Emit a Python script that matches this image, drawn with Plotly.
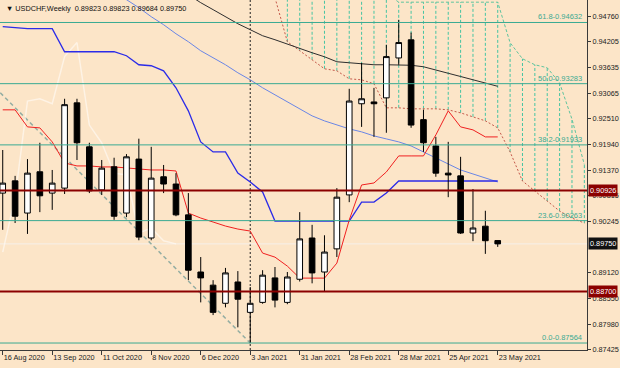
import plotly.graph_objects as go
import pandas as pd

# ---------------- data ----------------
dates = pd.date_range("2020-08-16", periods=48, freq="7D")  # weekly bars incl. future cloud bars
candle_dates = dates[:41]

opens = [0.9087, 0.9114, 0.9043, 0.9134, 0.9087, 0.9098, 0.9286, 0.9189, 0.9094, 0.9145,
         0.9043, 0.9162, 0.8988, 0.9123, 0.9107, 0.9039, 0.8913, 0.8884, 0.8844, 0.8891,
         0.8824, 0.8846, 0.8900, 0.8846, 0.8897, 0.8988, 0.8913, 0.8964, 0.9083, 0.9284,
         0.9288, 0.9297, 0.9385, 0.9425, 0.9249, 0.9191, 0.9131, 0.9125, 0.8999, 0.9014,
         0.89823]
highs = [0.9182, 0.9125, 0.9162, 0.9198, 0.9138, 0.9295, 0.9295, 0.9198, 0.9160, 0.9165,
         0.9173, 0.9207, 0.9189, 0.9149, 0.9131, 0.9087, 0.8946, 0.8895, 0.8922, 0.8915,
         0.8880, 0.8917, 0.8924, 0.8913, 0.9045, 0.9017, 0.8994, 0.9098, 0.9317, 0.9374,
         0.9319, 0.9414, 0.9469, 0.9441, 0.9271, 0.9211, 0.9200, 0.9167, 0.9096, 0.9048,
         0.89823]
lows = [0.9006, 0.9021, 0.8997, 0.9045, 0.9050, 0.9085, 0.9160, 0.9087, 0.9083, 0.9028,
        0.9034, 0.8983, 0.8983, 0.9087, 0.9036, 0.8895, 0.8846, 0.8818, 0.8835, 0.8791,
        0.87564, 0.8843, 0.8835, 0.8842, 0.8892, 0.8888, 0.8869, 0.8946, 0.9067, 0.9233,
        0.9211, 0.9220, 0.9370, 0.9231, 0.9178, 0.9123, 0.9078, 0.8997, 0.8981, 0.8953,
        0.89684]
closes = [0.9109, 0.9036, 0.9131, 0.9081, 0.9109, 0.9282, 0.9198, 0.9092, 0.9142, 0.9036,
          0.9167, 0.8990, 0.9120, 0.9107, 0.9039, 0.8917, 0.8900, 0.8824, 0.8911, 0.8853,
          0.8844, 0.8906, 0.8851, 0.8902, 0.8986, 0.8911, 0.8957, 0.9078, 0.9290, 0.9295,
          0.9284, 0.9388, 0.9419, 0.9237, 0.9198, 0.9131, 0.9127, 0.8999, 0.9010, 0.8982,
          0.89750]

# Ichimoku Tenkan-sen (red), bars 0..40
tenkan = [0.92706, 0.92706, 0.92330, 0.92308, 0.91999, 0.91535, 0.91469, 0.91469, 0.91447, 0.91447,
          0.91425, 0.91402, 0.91380, 0.91380, 0.91358, 0.90430, 0.90320, 0.90232, 0.90143, 0.90077,
          0.90033, 0.89547, 0.89458, 0.89260, 0.88995, 0.88995, 0.88995, 0.89326, 0.90276, 0.91049,
          0.91093, 0.91336, 0.91690, 0.91690, 0.91690, 0.92153, 0.92684, 0.92330, 0.92264, 0.92109,
          0.92109]
# Kijun-sen (blue), bars 0..40
kijun = [0.94539, 0.94517, 0.94495, 0.94495, 0.94495, 0.93987, 0.93987, 0.93987, 0.93987, 0.93987,
         0.93899, 0.93700, 0.93678, 0.93567, 0.93192, 0.92684, 0.91999, 0.91778, 0.91778, 0.91314,
         0.91115, 0.90894, 0.90254, 0.90254, 0.90254, 0.90254, 0.90254, 0.90254, 0.90254, 0.90673,
         0.90673, 0.90872, 0.91137, 0.91137, 0.91137, 0.91137, 0.91137, 0.91137, 0.91137, 0.91137,
         0.91137]
# light blue moving average, bars 9..40
ma_blue = [0.95312, 0.95136, 0.94959, 0.94760, 0.94583, 0.94384, 0.94208, 0.94009, 0.93854, 0.93700,
           0.93523, 0.93368, 0.93192, 0.93037, 0.92882, 0.92728, 0.92573, 0.92462, 0.92374, 0.92286,
           0.92220, 0.92131, 0.92065, 0.91999, 0.91910, 0.91778, 0.91645, 0.91513, 0.91380, 0.91292,
           0.91203, 0.91115]
# black moving average, bars 15..40
ma_black = [0.95246, 0.95069, 0.94915, 0.94760, 0.94605, 0.94473, 0.94340, 0.94252, 0.94152, 0.94053,
            0.93965, 0.93876, 0.93766, 0.93744, 0.93722, 0.93700, 0.93700, 0.93700, 0.93689, 0.93656,
            0.93578, 0.93512, 0.93441, 0.93368, 0.93295, 0.93225]
# Senkou span A (brown dotted) and B (green dashed), bars 22..47
senkou_a = [0.95180, 0.94208, 0.94009, 0.93810, 0.93611, 0.93567, 0.93390, 0.93368, 0.93280, 0.92750,
            0.92750, 0.92728, 0.92728, 0.92728, 0.92706, 0.92639, 0.92551, 0.92463, 0.92308, 0.91778,
            0.91137, 0.90916, 0.90694, 0.90474, 0.90319, 0.90209]
senkou_b = [0.95401, 0.95401, 0.95401, 0.95401, 0.95401, 0.95401, 0.95401, 0.95401, 0.95401, 0.95268,
            0.95080, 0.95080, 0.95080, 0.95080, 0.95080, 0.95080, 0.95080, 0.95080, 0.95080, 0.94186,
            0.93832, 0.93700, 0.93634, 0.93300, 0.92500, 0.91500]

fib_pct = ["61.8", "50.0", "38.2", "23.6", "0.0"]
fib_price = [0.94632, 0.93283, 0.91933, 0.90263, 0.87564]
level_prices = [0.90926, 0.88700]
bid_price = 0.89750
trend_x = ["2020-08-09", "2021-01-03"]
trend_y = [0.93300, 0.87564]
separator_date = "2021-01-03"

ytick_vals = [0.94760, 0.94205, 0.93635, 0.93065, 0.92510, 0.91940, 0.91370, 0.90815,
              0.90245, 0.89120, 0.88550, 0.87980, 0.87425]
xtick_vals = pd.date_range("2020-08-16", "2021-05-23", freq="28D")

title_text = "▼ USDCHF,Weekly  0.89823 0.89823 0.89684 0.89750"

# ---------------- style ----------------
BG = "#FCE5C8"
AX = "#3A3A3A"
TEAL = "#3AAA92"
HATCH = "#45C4A2"
FONT = "Liberation Sans"

fig = go.Figure()

# trendline (dashed)
fig.add_trace(go.Scatter(x=trend_x, y=trend_y, mode="lines",
                         line=dict(color="#93ADA2", width=1.5, dash="4px,3px"), hoverinfo="skip"))

# cloud hatching
cloud_dates = dates[22:48]
hx, hy = [], []
for d, a, b in zip(cloud_dates, senkou_a, senkou_b):
    hx += [d, d, None]
    hy += [a, b, None]
fig.add_trace(go.Scatter(x=hx, y=hy, mode="lines",
                         line=dict(color=HATCH, width=1, dash="3px,2px"), hoverinfo="skip"))
fig.add_trace(go.Scatter(x=cloud_dates, y=senkou_b, mode="lines",
                         line=dict(color="#5EC49E", width=1, dash="3px,2px"), hoverinfo="skip"))
fig.add_trace(go.Scatter(x=cloud_dates, y=senkou_a, mode="lines",
                         line=dict(color="#C4584A", width=1, dash="2px,2px"), hoverinfo="skip"))

# chikou span (closes shifted back 26 bars)
fig.add_trace(go.Scatter(x=candle_dates[:15], y=closes[26:], mode="lines",
                         line=dict(color="rgba(255,252,248,0.6)", width=1.5), hoverinfo="skip"))

# moving averages
fig.add_trace(go.Scatter(x=candle_dates[15:], y=ma_black, mode="lines",
                         line=dict(color="#2E2E2E", width=1), hoverinfo="skip"))
fig.add_trace(go.Scatter(x=candle_dates[9:], y=ma_blue, mode="lines",
                         line=dict(color="#6A86E6", width=1), hoverinfo="skip"))
# kijun / tenkan
fig.add_trace(go.Scatter(x=candle_dates, y=kijun, mode="lines",
                         line=dict(color="#2B2BE8", width=1.3), hoverinfo="skip"))
fig.add_trace(go.Scatter(x=candle_dates, y=tenkan, mode="lines",
                         line=dict(color="#F02020", width=1), hoverinfo="skip"))

# candles on overlaid axes so they sit above the indicator lines
fig.add_trace(go.Candlestick(
    x=candle_dates, open=opens, high=highs, low=lows, close=closes,
    increasing=dict(line=dict(color="black", width=1), fillcolor="white"),
    decreasing=dict(line=dict(color="black", width=1), fillcolor="black"),
    whiskerwidth=0, xaxis="x2", yaxis="y2", hoverinfo="skip"))

xr = ["2020-08-14 11:00", "2021-07-12 12:00"]
yr = [0.87410, 0.95128]

shapes = []
# period separator
shapes.append(dict(type="line", xref="x", yref="paper", x0=separator_date, x1=separator_date,
                   y0=0, y1=1, line=dict(color="#222222", width=1, dash="2px,2px"), layer="below"))
# bid line
shapes.append(dict(type="line", xref="paper", yref="y", x0=0, x1=1, y0=bid_price, y1=bid_price,
                   line=dict(color="#F6F0EA", width=1), layer="below"))
for p in fib_price:
    shapes.append(dict(type="line", xref="paper", yref="y", x0=0, x1=1, y0=p, y1=p,
                       line=dict(color=TEAL, width=1), layer="above"))
for p in level_prices:
    shapes.append(dict(type="line", xref="paper", yref="y", x0=0, x1=1, y0=p, y1=p,
                       line=dict(color="#8B0000", width=2), layer="above"))

annotations = []
annotations.append(dict(text=title_text, xref="paper", yref="paper", x=0.006, y=0.977,
                        xanchor="left", yanchor="middle", showarrow=False,
                        font=dict(family=FONT, size=7.3, color="#111111")))
for t, p in zip(fib_pct, fib_price):
    annotations.append(dict(text=f"{t}-{p:.5f}", xref="paper", yref="y", x=584 / 587, y=p,
                            xanchor="right", yanchor="bottom", showarrow=False, yshift=-1,
                            font=dict(family=FONT, size=7.5, color=TEAL)))
for p in level_prices:
    annotations.append(dict(text=f"{p:.5f}", xref="paper", yref="y", x=1, y=p, xshift=1,
                            xanchor="left", yanchor="middle", showarrow=False,
                            bgcolor="#8B0000", borderpad=1,
                            font=dict(family=FONT, size=7.3, color="white")))
annotations.append(dict(text=f"{bid_price:.5f}", xref="paper", yref="y", x=1, y=bid_price, xshift=1,
                        xanchor="left", yanchor="middle", showarrow=False,
                        bgcolor="#111111", borderpad=1,
                        font=dict(family=FONT, size=7.3, color="white")))

fig.update_layout(
    width=620, height=368,
    margin=dict(l=0, r=33, t=0, b=18),
    paper_bgcolor=BG, plot_bgcolor=BG,
    showlegend=False, boxgap=0.35,
    shapes=shapes, annotations=annotations,
    xaxis=dict(type="date", range=xr, tickvals=xtick_vals, tickformat="%-d %b %Y", tickangle=0,
               ticks="outside", ticklen=4, tickcolor=AX, showline=True, linecolor=AX, linewidth=1,
               showgrid=False, zeroline=False, ticklabelposition="outside right",
               tickfont=dict(family=FONT, size=7.3, color="#222222"), rangeslider=dict(visible=False)),
    yaxis=dict(range=yr, side="right", tickvals=ytick_vals, ticktext=[f"{v:.5f}" for v in ytick_vals],
               ticks="outside", ticklen=3, tickcolor=AX, showline=True, linecolor=AX, linewidth=1,
               showgrid=False, zeroline=False,
               tickfont=dict(family=FONT, size=7.3, color="#222222")),
    xaxis2=dict(type="date", range=xr, overlaying="x", anchor="y2", visible=False,
                rangeslider=dict(visible=False)),
    yaxis2=dict(range=yr, overlaying="y", anchor="x2", side="right", visible=False),
)

fig.write_html("out.html", config={"displayModeBar": False},
               post_script="document.body.style.margin='0px';")
